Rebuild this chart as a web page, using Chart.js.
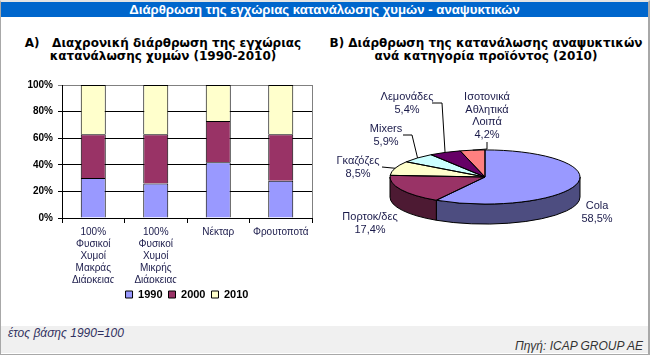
<!DOCTYPE html>
<html>
<head>
<meta charset="utf-8">
<script src="https://cdn.jsdelivr.net/npm/chart.js@4.4.0/dist/chart.umd.min.js"></script>
<style>
  body { margin: 0; background: #fff; }
  #frame { position: absolute; left: 0; top: 0; width: 650px; height: 355px; background: #fff; overflow: hidden;
           font-family: "Liberation Sans", Arial, sans-serif; }
  #edge { position: absolute; left: 0; top: 0; width: 650px; height: 355px; box-sizing: border-box;
          border: 1px solid #a8a8a8; border-right-width: 2px; border-top: 2px solid #e4e4e4; pointer-events: none; }
  #header { position: absolute; left: 1px; top: 2px; width: 647px; height: 15px; background: #0066cc; color: #fff;
            font: bold 13.2px "Liberation Sans", Arial, sans-serif; line-height: 15px; text-align: center; }
  .title { position: absolute; top: 37px; font: bold 12px "DejaVu Sans", Verdana, sans-serif; line-height: 13px;
           text-align: center; white-space: pre; color: #000; }
  #footer { position: absolute; left: 1px; top: 326px; width: 647px; height: 27px; background: #f0f0f0; }
  #note { position: absolute; left: 8px; top: 326px; font: italic 12px "Liberation Sans", Arial, sans-serif; color: #303060; }
  #source { position: absolute; right: 7px; top: 339px; font: italic 12px "Liberation Sans", Arial, sans-serif; color: #333; }
  #barBox { position: absolute; left: 0; top: 70px; width: 320px; height: 240px; }
  #pieBox { position: absolute; left: 320px; top: 70px; width: 330px; height: 250px; }
</style>
</head>
<body>
<div id="frame">
  <div id="header">Διάρθρωση της εγχώριας κατανάλωσης χυμών - αναψυκτικών</div>
  <div class="title" style="left:0;width:326px">A)   Διαχρονική διάρθρωση της εγχώριας
κατανάλωσης χυμών (1990-2010)</div>
  <div class="title" style="left:321px;width:330px">Β) Διάρθρωση της κατανάλωσης αναψυκτικών
ανά κατηγορία προϊόντος (2010)</div>
  <div id="barBox"><canvas id="barChart" width="320" height="240"></canvas></div>
  <div id="pieBox"><canvas id="pieChart" width="330" height="250"></canvas></div>
  <div id="footer"></div>
  <div id="note">έτος βάσης 1990=100</div>
  <div id="source">Πηγή: ICAP GROUP AE</div>
  <div id="edge"></div>
</div>
<script>
// δεδομένα - διάγραμμα Α
var barCategories = [
    ['100%', 'Φυσικοί', 'Χυμοί', 'Μακράς', 'Διάρκειας'],
    ['100%', 'Φυσικοί', 'Χυμοί', 'Μικρής', 'Διάρκειας'],
    'Νέκταρ',
    'Φρουτοποτά'
];
var years = ['1990', '2000', '2010'];
var share1990 = [30, 26, 42, 28];
var share2000 = [33, 37, 31, 35];
var share2010 = [37, 37, 27, 37];
var yTicks = [0, 20, 40, 60, 80, 100];

// δεδομένα - διάγραμμα Β
var pieCategories = ['Cola', 'Πορτοκ/δες', 'Γκαζόζες', 'Mixers', 'Λεμονάδες', ['Ισοτονικά', 'Αθλητικά', 'Λοιπά']];
var pieShares = [58.5, 17.4, 8.5, 5.9, 5.4, 4.2];

// χρώματα (παλέτα Excel)
var barColors = ['#9999ff', '#993366', '#ffffcc'];
var pieColors = ['#9999ff', '#993366', '#ffffcc', '#ccffff', '#660066', '#ff8080'];

Chart.defaults.font.family = '"Liberation Sans", Arial, sans-serif';
Chart.defaults.animation = false;

// περίγραμμα περιοχής σχεδίασης (δεξιά πλευρά)
var plotEdge = {
    id: 'plotEdge',
    afterDraw: function(chart) {
        var a = chart.chartArea, ctx = chart.ctx;
        ctx.save();
        ctx.strokeStyle = '#808080';
        ctx.lineWidth = 1;
        ctx.beginPath();
        ctx.moveTo(Math.round(a.right) + 0.5, a.top);
        ctx.lineTo(Math.round(a.right) + 0.5, a.bottom);
        ctx.stroke();
        ctx.restore();
    }
};

var barSeries = [share1990, share2000, share2010];
var barChart = new Chart(document.getElementById('barChart').getContext('2d'), {
    type: 'bar',
    data: {
        labels: barCategories,
        datasets: years.map(function(y, i) {
            return {
                label: y,
                data: barSeries[i],
                backgroundColor: barColors[i],
                borderColor: '#000',
                borderWidth: 1,
                barPercentage: 0.4,
                categoryPercentage: 1
            };
        })
    },
    options: {
        responsive: false,
        layout: { padding: { left: 12, right: 8, top: 15, bottom: 0 } },
        plugins: {
            tooltip: { enabled: false },
            legend: {
                position: 'bottom',
                fullSize: false,
                labels: { boxWidth: 7, boxHeight: 7, padding: 6, color: '#000', font: { size: 11, weight: 'bold' } }
            }
        },
        scales: {
            x: {
                stacked: true,
                afterFit: function(s) { s.height = 65; },
                grid: { drawOnChartArea: false, drawTicks: true, tickLength: 5, color: '#000', offset: true },
                border: { color: '#000' },
                ticks: { maxRotation: 0, minRotation: 0, autoSkip: false, padding: 3, color: '#1a1a4a',
                         font: { size: 10 } }
            },
            y: {
                stacked: true,
                min: 0,
                max: 100,
                afterFit: function(s) { s.width = 50; },
                afterBuildTicks: function(s) { s.ticks = yTicks.map(function(v) { return { value: v }; }); },
                grid: {
                    tickLength: 4,
                    color: function(c) { return c.tick && c.tick.value === 100 ? '#808080' : '#000'; }
                },
                border: { color: '#000' },
                ticks: { padding: 5, color: '#000', font: { size: 10, weight: 'bold' },
                         callback: function(v) { return v + '%'; } }
            }
        }
    },
    plugins: [plotEdge]
});

// τρισδιάστατη πίτα: κλίση και βάθος
var tilt = 0.285;
var depth = 20;
var labelFont = '11px "Liberation Sans", Arial, sans-serif';

function darker(hex) {
    var n = parseInt(hex.slice(1), 16);
    var r = (n >> 16) & 255, g = (n >> 8) & 255, b = n & 255;
    return 'rgb(' + Math.round(r * 0.5) + ',' + Math.round(g * 0.5) + ',' + Math.round(b * 0.5) + ')';
}

// θέσεις ετικετών (συντεταγμένες καμβά) και σημεία γραμμών οδηγών
var pieLabelPos = [
    { x: 277, y: 136, lead: null },
    { x: 50, y: 147, lead: null },
    { x: 38, y: 91, lead: [[62, 97]] },
    { x: 66, y: 59, lead: [[83, 65], [92, 65]] },
    { x: 87, y: 27, lead: [[112, 33], [122, 33]] },
    { x: 167, y: 27, lead: [[167, 72], [167, 79]] }
];

var pie3d = {
    id: 'pie3d',
    beforeDatasetsDraw: function(chart) {
        var ctx = chart.ctx;
        var arcs = chart.getDatasetMeta(0).data;
        var cx = arcs[0].x, cy = arcs[0].y, rx = arcs[0].outerRadius, ry = rx * tilt;
        ctx.save();
        ctx.lineWidth = 1;
        ctx.strokeStyle = '#000';
        arcs.forEach(function(a, i) {
            var s = Math.max(a.startAngle, 0), e = Math.min(a.endAngle, Math.PI);
            if (s >= e) return;
            ctx.beginPath();
            ctx.ellipse(cx, cy, rx, ry, 0, s, e);
            ctx.lineTo(cx + rx * Math.cos(e), cy + ry * Math.sin(e) + depth);
            ctx.ellipse(cx, cy + depth, rx, ry, 0, e, s, true);
            ctx.closePath();
            ctx.fillStyle = darker(pieColors[i]);
            ctx.fill();
            ctx.stroke();
        });
        ctx.restore();
        // η πάνω όψη σχεδιάζεται από το Chart.js συμπιεσμένη κατακόρυφα
        ctx.save();
        ctx.translate(cx, cy);
        ctx.scale(1, tilt);
        ctx.translate(-cx, -cy);
    },
    afterDatasetsDraw: function(chart) {
        var ctx = chart.ctx;
        ctx.restore();
        var arcs = chart.getDatasetMeta(0).data;
        var cx = arcs[0].x, cy = arcs[0].y, rx = arcs[0].outerRadius, ry = rx * tilt;
        ctx.save();
        ctx.lineWidth = 1;
        ctx.strokeStyle = '#000';
        arcs.forEach(function(a) {
            ctx.beginPath();
            ctx.moveTo(cx, cy);
            ctx.ellipse(cx, cy, rx, ry, 0, a.startAngle, a.endAngle);
            ctx.closePath();
            ctx.stroke();
        });
        // ετικέτες
        ctx.font = labelFont;
        ctx.fillStyle = '#1a1a4a';
        ctx.textAlign = 'center';
        ctx.textBaseline = 'middle';
        arcs.forEach(function(a, i) {
            var p = pieLabelPos[i];
            var name = chart.data.labels[i];
            var lines = [].concat(name);
            lines.push(pieShares[i].toFixed(1).replace('.', ',') + '%');
            lines.forEach(function(t, k) { ctx.fillText(t, p.x, p.y + k * 12.5); });
            if (p.lead) {
                var mid = (a.startAngle + a.endAngle) / 2;
                ctx.beginPath();
                ctx.moveTo(p.lead[0][0], p.lead[0][1]);
                for (var k = 1; k < p.lead.length; k++) ctx.lineTo(p.lead[k][0], p.lead[k][1]);
                ctx.lineTo(cx + rx * Math.cos(mid), cy + ry * Math.sin(mid));
                ctx.stroke();
            }
        });
        ctx.restore();
    }
};

var pieChart = new Chart(document.getElementById('pieChart').getContext('2d'), {
    type: 'pie',
    data: {
        labels: pieCategories,
        datasets: [{ data: pieShares, backgroundColor: pieColors, borderWidth: 0 }]
    },
    options: {
        responsive: false,
        radius: 95,
        layout: { padding: { left: 0, right: 0, top: 0, bottom: 36 } },
        plugins: { legend: { display: false }, tooltip: { enabled: false } }
    },
    plugins: [pie3d]
});
</script>
</body>
</html>
